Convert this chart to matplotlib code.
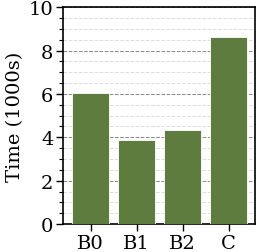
import matplotlib
matplotlib.use("Agg")
import matplotlib.pyplot as plt
from matplotlib.ticker import MultipleLocator

labels = ["B0", "B1", "B2", "C"]
times = [6.05, 3.87, 4.33, 8.63]

plt.rcParams["font.family"] = "DejaVu Serif"
plt.rcParams["font.size"] = 14

fig = plt.figure(figsize=(2.58, 2.53), dpi=100)
ax = fig.add_axes([0.245, 0.11, 0.745, 0.858])

ax.bar(labels, times, color="#5e7c3e", edgecolor="white", linewidth=0.6, width=0.8, zorder=3)

ax.set_ylim(0, 10)
ax.set_xlim(-0.6, 3.58)
ax.yaxis.set_major_locator(MultipleLocator(2))
ax.yaxis.set_minor_locator(MultipleLocator(0.5))
ax.grid(axis="y", which="major", linestyle="--", color="#888888", linewidth=0.7, zorder=0)
ax.grid(axis="y", which="minor", linestyle="--", color="#dddddd", linewidth=0.7, zorder=0)
ax.tick_params(axis="y", which="major", length=5, width=1, pad=2)
ax.tick_params(axis="y", which="minor", length=3, width=0.8)
ax.tick_params(axis="x", length=5, width=1, pad=2)
ax.set_ylabel("Time (1000s)", labelpad=3)

for s in ax.spines.values():
    s.set_linewidth(1.2)

fig.savefig("out.png", dpi=100)
